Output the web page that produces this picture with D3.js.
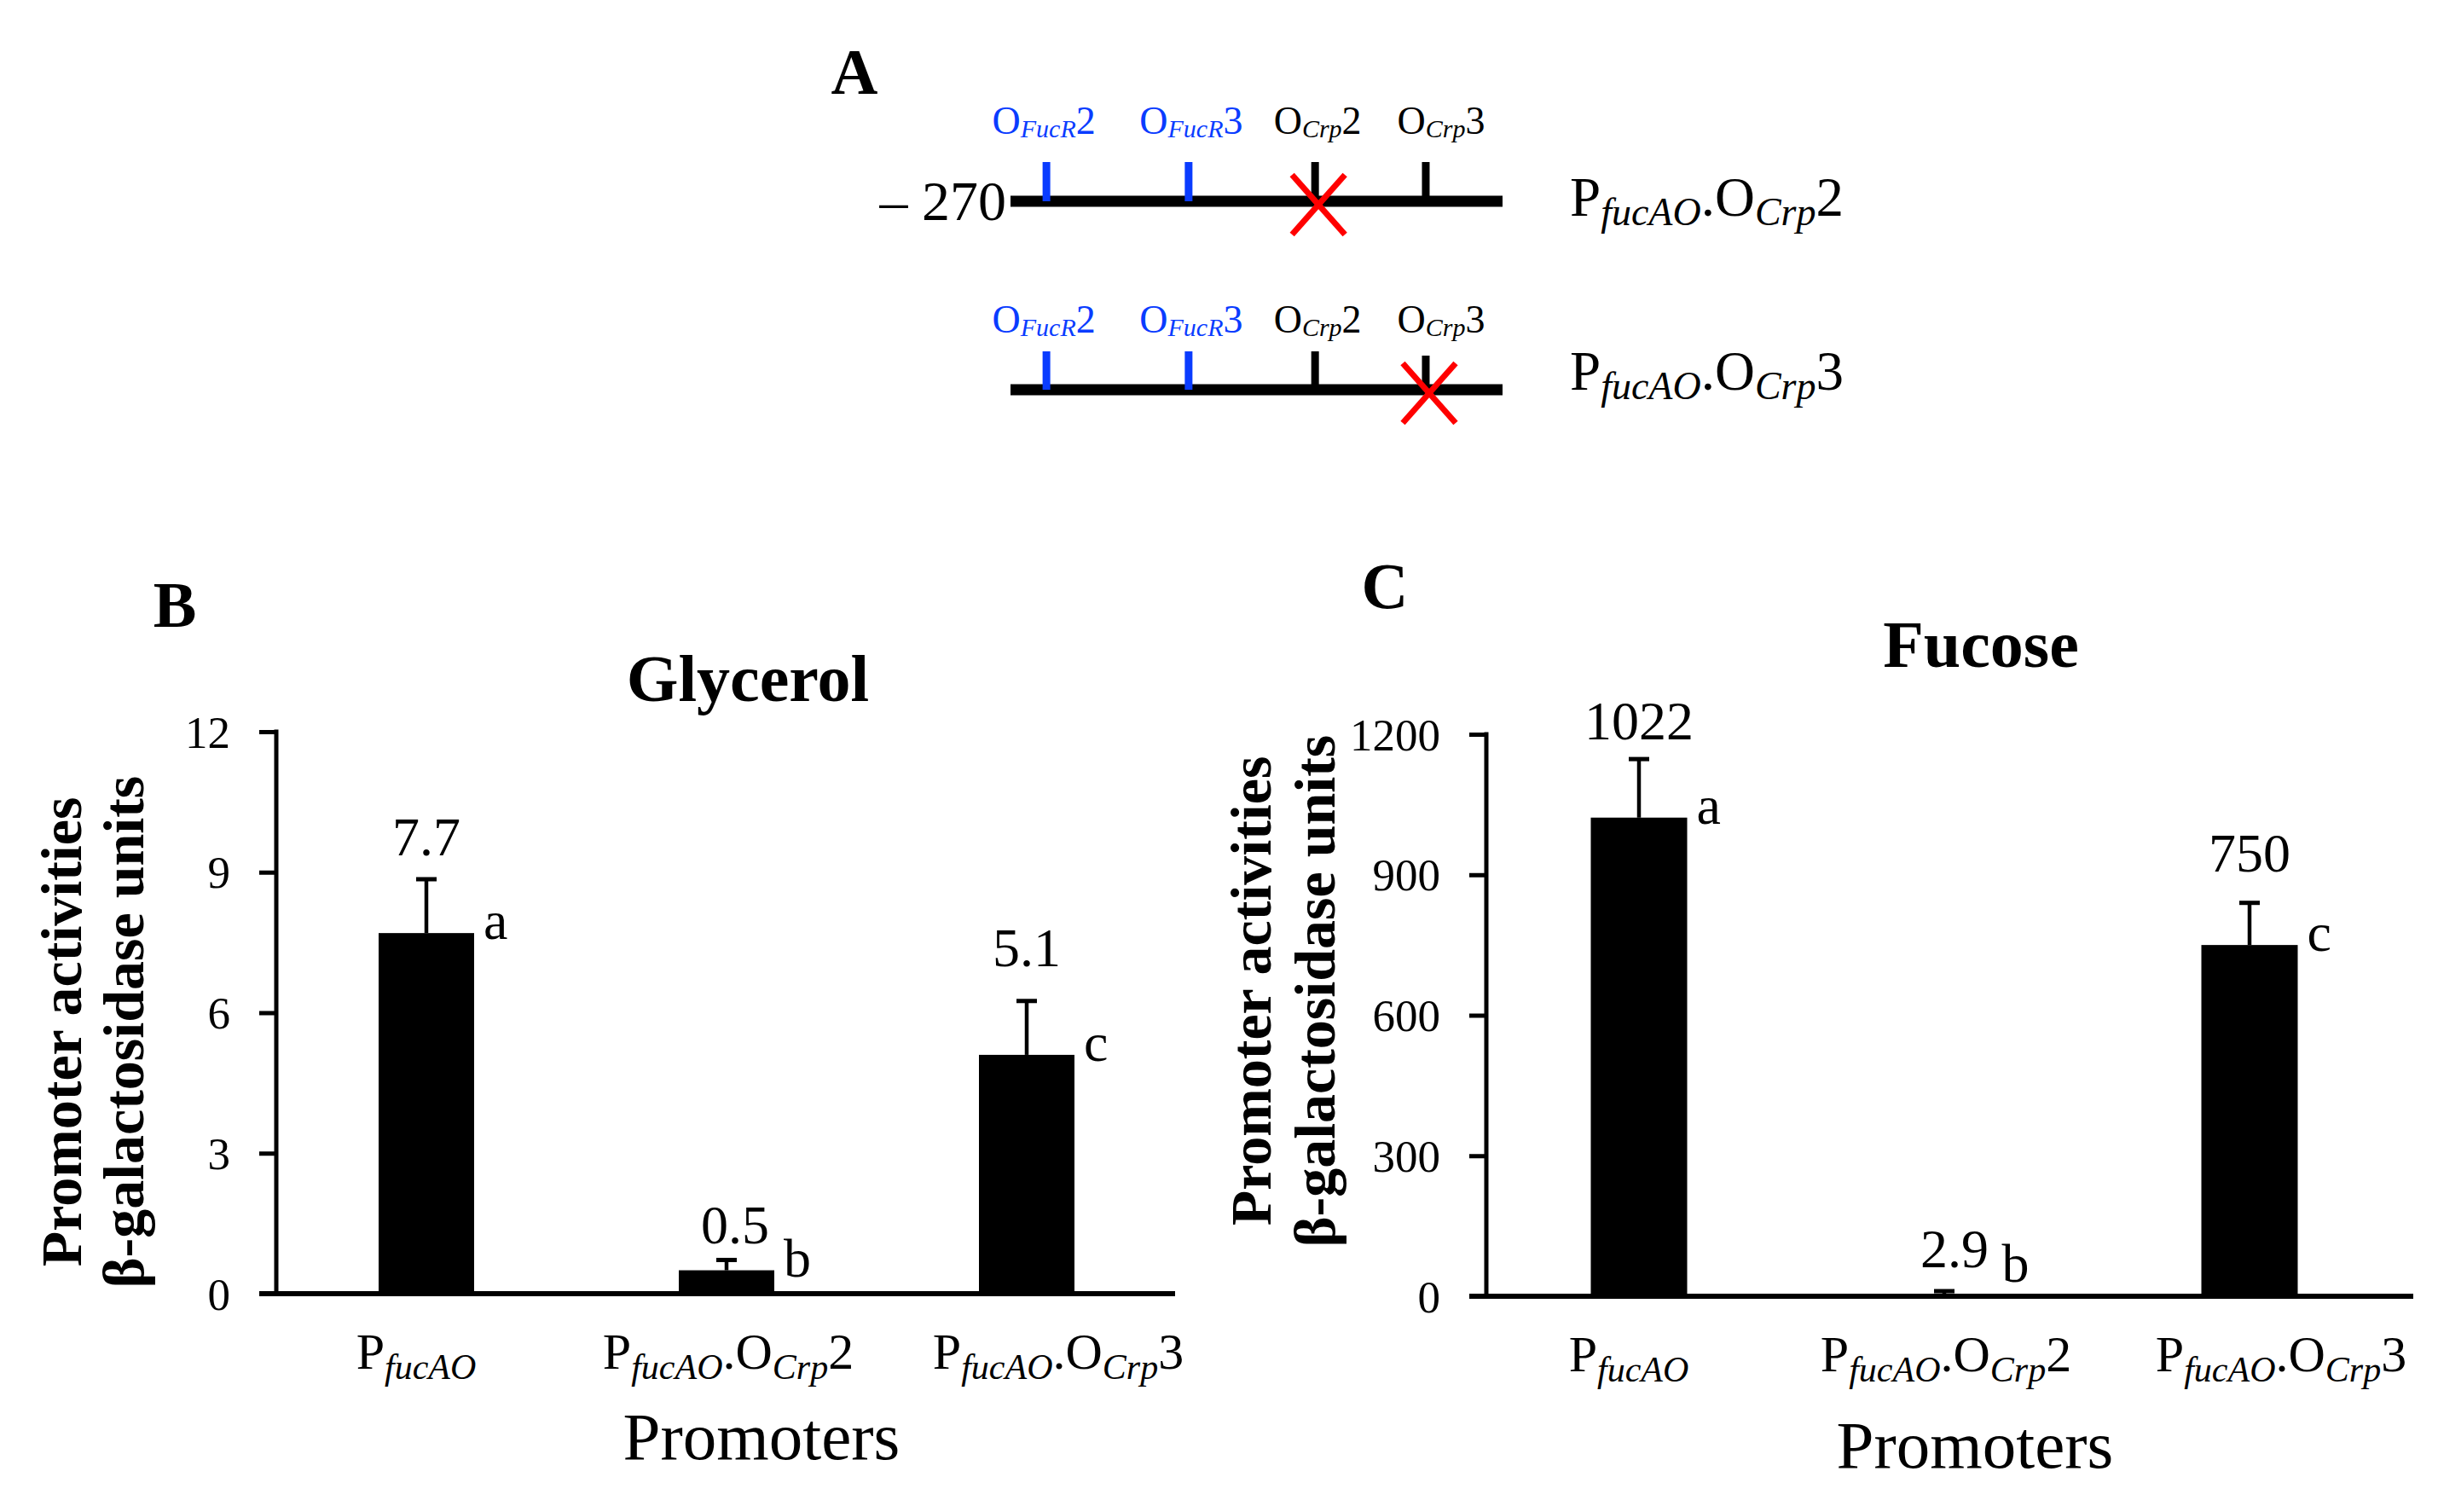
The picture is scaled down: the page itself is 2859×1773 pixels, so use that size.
<!DOCTYPE html>
<html>
<head>
<meta charset="utf-8">
<script src="https://cdn.jsdelivr.net/npm/d3@7"></script>
<style>
  html, body { margin: 0; padding: 0; background: #fff; }
  svg { display: block; }
</style>
</head>
<body>
<svg id="chart" width="2859" height="1773"></svg>
<script>
// ---------------- DATA ----------------
const categories = ["P_{fucAO}", "P_{fucAO}.O_{Crp}2", "P_{fucAO}.O_{Crp}3"];

const glycerolValues  = [7.7, 0.5, 5.1];
const glycerolErrors  = [1.15, 0.22, 1.15];
const glycerolLabels  = ["7.7", "0.5", "5.1"];
const glycerolLetters = ["a", "b", "c"];
const glycerolTicks   = [0, 3, 6, 9, 12];

const fucoseValues  = [1022, 2.9, 750];
const fucoseErrors  = [125, 8, 90];
const fucoseLabels  = ["1022", "2.9", "750"];
const fucoseLetters = ["a", "b", "c"];
const fucoseTicks   = [0, 300, 600, 900, 1200];

// Panel A: promoter map
const siteNames     = ["O_{FucR}2", "O_{FucR}3", "O_{Crp}2", "O_{Crp}3"];
const siteKinds     = ["FucR", "FucR", "Crp", "Crp"];
const sitePositions = [0.073, 0.362, 0.619, 0.844];   // fraction of the -270 fragment
const constructs    = ["P_{fucAO}.O_{Crp}2", "P_{fucAO}.O_{Crp}3"];
const mutatedIndex  = [2, 3];
const fragmentStart = "– 270";

// ---------------- STYLE / LAYOUT ----------------
const FONT = "'Liberation Serif','Times New Roman',Times,serif";
const BLUE = "#0a3cff";
const RED  = "#ff0000";

const svg = d3.select("#chart");

function richText(sel, str, size, subSize, subDy) {
  const re = /_\{([^}]*)\}/g;
  let last = 0, m, parts = [];
  while ((m = re.exec(str)) !== null) {
    if (m.index > last) parts.push({t: str.slice(last, m.index), sub: false});
    parts.push({t: m[1], sub: true});
    last = re.lastIndex;
  }
  if (last < str.length) parts.push({t: str.slice(last), sub: false});
  let shifted = false;
  parts.forEach(p => {
    const ts = sel.append("tspan").text(p.t);
    if (p.sub) {
      ts.attr("font-size", subSize).attr("font-style", "italic");
      if (!shifted) { ts.attr("dy", subDy); shifted = true; }
    } else {
      ts.attr("font-size", size).attr("font-style", "normal");
      if (shifted) { ts.attr("dy", -subDy); shifted = false; }
    }
  });
  return sel;
}

// ---------------- PANEL A ----------------
(function panelA() {
  const g = svg.append("g");
  const xA = d3.scaleLinear().domain([0, 1]).range([1185, 1762]);
  const rows = [
    {lineY: 236, siteLabelY: 157, labelY: 253, tickTop: 190},
    {lineY: 457, siteLabelY: 390, labelY: 457, tickTop: 412}
  ];
  const siteLabelDx = [-3, 3, 3, 18];

  g.append("text").attr("x", 1002).attr("y", 110)
    .attr("text-anchor", "middle").attr("font-family", FONT)
    .attr("font-weight", "bold").attr("font-size", 76).text("A");

  g.append("text").attr("x", 1180).attr("y", 258)
    .attr("text-anchor", "end").attr("font-family", FONT)
    .attr("font-size", 66).text(fragmentStart);

  constructs.forEach((c, r) => {
    const row = rows[r];
    g.append("line").attr("x1", xA(0)).attr("x2", xA(1))
      .attr("y1", row.lineY).attr("y2", row.lineY)
      .attr("stroke", "#000").attr("stroke-width", 13);
    siteNames.forEach((s, i) => {
      const x = xA(sitePositions[i]);
      const col = siteKinds[i] === "FucR" ? BLUE : "#000";
      g.append("line").attr("x1", x).attr("x2", x)
        .attr("y1", row.tickTop + (i === mutatedIndex[r] && r === 1 ? 5 : 0))
        .attr("y2", row.lineY)
        .attr("stroke", col).attr("stroke-width", 9);
      const t = g.append("text").attr("x", x + siteLabelDx[i]).attr("y", row.siteLabelY)
        .attr("text-anchor", "middle").attr("font-family", FONT).attr("fill", col);
      richText(t, s, 46, 30, 4);
    });
    const mx = xA(sitePositions[mutatedIndex[r]]) + 4;
    const my = row.lineY + 4;
    [[-31, -35, 31, 35], [31, -35, -31, 35]].forEach(d => {
      g.append("line").attr("x1", mx + d[0]).attr("y1", my + d[1])
        .attr("x2", mx + d[2]).attr("y2", my + d[3])
        .attr("stroke", RED).attr("stroke-width", 7);
    });
    const lt = g.append("text").attr("x", 1841).attr("y", row.labelY)
      .attr("font-family", FONT);
    richText(lt, c, 65, 46, 11);
  });
})();

// ---------------- BAR PANELS ----------------
function barPanel(cfg) {
  const g = svg.append("g");
  const x = d3.scaleBand().domain(categories)
    .range([cfg.x0, cfg.x0 + 3 * cfg.step])
    .paddingInner(1 - cfg.barW / cfg.step)
    .paddingOuter((1 - cfg.barW / cfg.step) / 2);
  const y = d3.scaleLinear().domain([0, cfg.ticks[cfg.ticks.length - 1]])
    .range([cfg.y0, cfg.yTop]);

  g.append("text").attr("x", cfg.letterX).attr("y", cfg.letterY)
    .attr("text-anchor", "middle").attr("font-family", FONT)
    .attr("font-weight", "bold").attr("font-size", 76).text(cfg.letter);

  g.append("text").attr("x", cfg.titleX).attr("y", cfg.titleY)
    .attr("text-anchor", "middle").attr("font-family", FONT)
    .attr("font-weight", "bold").attr("font-size", 78).text(cfg.title);

  g.selectAll("rect.bar").data(cfg.values).join("rect")
    .attr("class", "bar")
    .attr("x", (d, i) => x(categories[i]))
    .attr("width", x.bandwidth())
    .attr("y", d => y(d))
    .attr("height", d => y(0) - y(d))
    .attr("fill", "#000");

  cfg.values.forEach((v, i) => {
    const cx = x(categories[i]) + x.bandwidth() / 2;
    const yt = y(v + cfg.errors[i]);
    g.append("line").attr("x1", cx).attr("x2", cx)
      .attr("y1", y(v)).attr("y2", yt)
      .attr("stroke", "#000").attr("stroke-width", 4.5);
    g.append("line").attr("x1", cx - 12).attr("x2", cx + 12)
      .attr("y1", yt).attr("y2", yt)
      .attr("stroke", "#000").attr("stroke-width", 5);
    g.append("text").attr("x", cx + cfg.valDx[i]).attr("y", yt - 28 + cfg.valDy[i])
      .attr("text-anchor", "middle").attr("font-family", FONT)
      .attr("font-size", 64).text(cfg.labels[i]);
    g.append("text").attr("x", x(categories[i]) + x.bandwidth() + 11)
      .attr("y", Math.min(y(v) + 7, y(0) - 17))
      .attr("font-family", FONT).attr("font-size", 64).text(cfg.letters[i]);
  });

  const yAxis = d3.axisLeft(y).tickValues(cfg.ticks).tickSize(20).tickPadding(34)
    .tickFormat(d3.format("d"));
  const ag = g.append("g").attr("transform", `translate(${cfg.x0},0)`).call(yAxis);
  ag.select(".domain").remove();
  ag.selectAll(".tick line").attr("stroke", "#000").attr("stroke-width", 5);
  ag.selectAll(".tick text").attr("font-family", FONT).attr("font-size", 53)
    .attr("fill", "#000").attr("dy", "0.34em");
  g.append("line").attr("x1", cfg.x0).attr("x2", cfg.x0)
    .attr("y1", y(cfg.ticks[cfg.ticks.length - 1]) - 2.5).attr("y2", y(0))
    .attr("stroke", "#000").attr("stroke-width", 5);

  g.append("line").attr("x1", cfg.x0 - 20).attr("x2", cfg.xEnd)
    .attr("y1", y(0)).attr("y2", y(0))
    .attr("stroke", "#000").attr("stroke-width", 6);

  const catDx = [-12, 2, 37];
  categories.forEach((c, i) => {
    const t = g.append("text")
      .attr("x", x(c) + x.bandwidth() / 2 + catDx[i]).attr("y", y(0) + 88)
      .attr("text-anchor", "middle").attr("font-family", FONT);
    richText(t, c, 60, 42, 12);
  });

  g.append("text").attr("x", cfg.xTitleX).attr("y", cfg.xTitleY)
    .attr("text-anchor", "middle").attr("font-family", FONT)
    .attr("font-size", 79).text("Promoters");

  const ytl = ["Promoter activities", "β-galactosidase units"];
  ytl.forEach((s, k) => {
    g.append("text")
      .attr("transform", `translate(${cfg.yTitleX[k]},${cfg.yTitleY}) rotate(-90)`)
      .attr("text-anchor", "middle").attr("font-family", FONT)
      .attr("font-weight", "bold").attr("font-size", 68).text(s);
  });
}

barPanel({
  letter: "B", letterX: 205, letterY: 735,
  title: "Glycerol", titleX: 877, titleY: 822,
  x0: 324, step: 352, barW: 112, xEnd: 1378,
  y0: 1517, yTop: 858,
  ticks: glycerolTicks, values: glycerolValues, errors: glycerolErrors,
  labels: glycerolLabels, letters: glycerolLetters,
  valDx: [0, 10, 0], valDy: [0, 9, -13],
  xTitleX: 893, xTitleY: 1711,
  yTitleX: [95, 168], yTitleY: 1210
});

barPanel({
  letter: "C", letterX: 1624, letterY: 713,
  title: "Fucose", titleX: 2323, titleY: 782,
  x0: 1743, step: 358, barW: 113, xEnd: 2830,
  y0: 1520, yTop: 861,
  ticks: fucoseTicks, values: fucoseValues, errors: fucoseErrors,
  labels: fucoseLabels, letters: fucoseLetters,
  valDx: [0, 12, 0], valDy: [5, 0, -9],
  xTitleX: 2316, xTitleY: 1721,
  yTitleX: [1490, 1565], yTitleY: 1162
});
</script>
</body>
</html>
